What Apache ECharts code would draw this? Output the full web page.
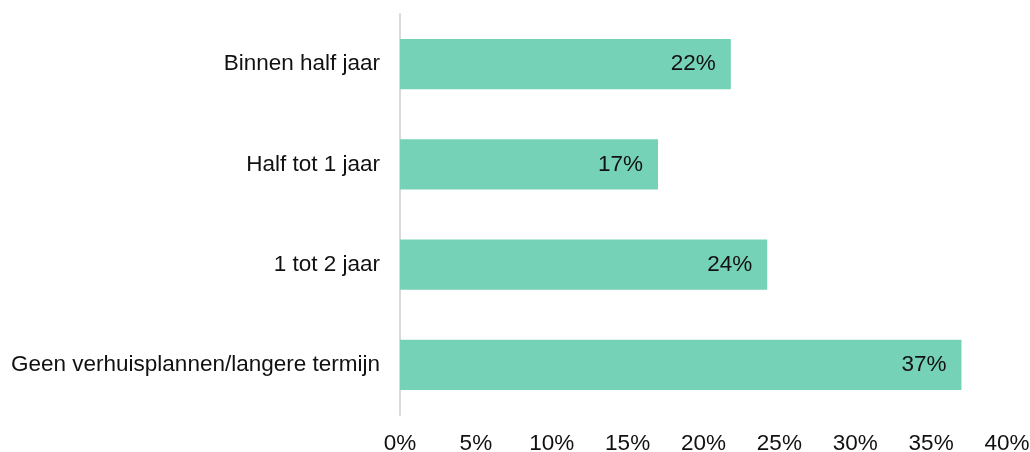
<!DOCTYPE html>
<html>
<head>
<meta charset="utf-8">
<script src="https://cdn.jsdelivr.net/npm/echarts@6/dist/echarts.min.js"></script>
<style>
  html, body { margin: 0; padding: 0; background: #fff; }
  #chart { width: 1030px; height: 452px; }
</style>
</head>
<body>
<div id="chart"></div>
<script>
// categories, top to bottom as in the picture
const categories = ["Binnen half jaar", "Half tot 1 jaar", "1 tot 2 jaar", "Geen verhuisplannen/langere termijn"];
// bar lengths (%), labels are the rounded values
const values = [21.8, 17.0, 24.2, 37.0];
const labels = ["22%", "17%", "24%", "37%"];
const xTicks = [0, 5, 10, 15, 20, 25, 30, 35, 40];

const chart = echarts.init(document.getElementById("chart"));
const font = "Liberation Sans, Arial, sans-serif";

chart.setOption({
  animation: false,
  grid: { left: 400, right: 23, top: 14, bottom: 37, containLabel: false, outerBoundsMode: "none" },
  xAxis: {
    type: "value",
    min: xTicks[0],
    max: xTicks[xTicks.length - 1],
    interval: 5,
    axisLine: { show: false },
    axisTick: { show: false },
    splitLine: { show: false },
    axisLabel: {
      formatter: v => v + "%",
      fontFamily: font, fontSize: 22.5, color: "#111",
      margin: 17,
    },
  },
  yAxis: {
    type: "category",
    inverse: true,
    data: categories,
    axisLine: { show: true, lineStyle: { color: "#d9d9d9", width: 2 } },
    axisTick: { show: false },
    axisLabel: { fontFamily: font, fontSize: 22.5, color: "#111", margin: 20 },
  },
  series: [{
    type: "bar",
    data: values,
    barWidth: "50%",
    itemStyle: { color: "#76d2b6" },
    label: {
      show: true,
      position: "insideRight",
      distance: 15,
      formatter: p => labels[p.dataIndex],
      fontFamily: font, fontSize: 22.5, color: "#111",
    },
  }],
});
</script>
</body>
</html>
